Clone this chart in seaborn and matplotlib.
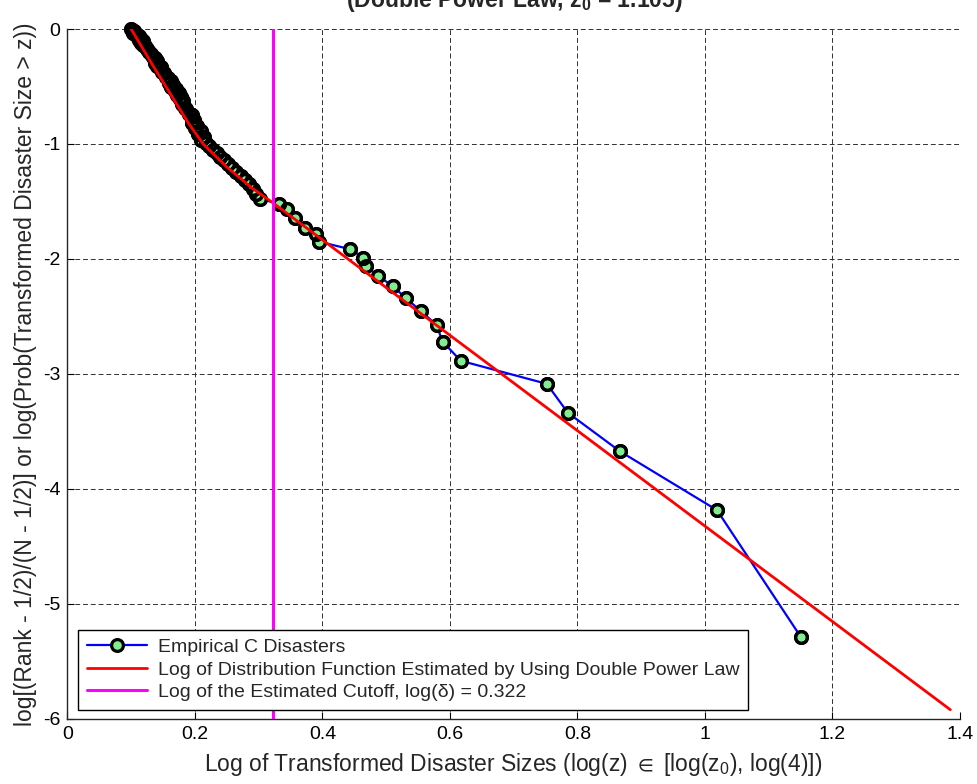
import numpy as np
import matplotlib
matplotlib.use('Agg')
import matplotlib.pyplot as plt
import pandas as pd
import seaborn as sns

# sample of 99 disasters, rank 1 = largest
N = 99
rank = list(range(1, N + 1))
log_size = [1.150, 1.019, 0.867, 0.785, 0.752, 0.617, 0.5885, 0.579, 0.554, 0.5305,
            0.511, 0.4875, 0.469, 0.464, 0.444, 0.395, 0.390, 0.3725, 0.357, 0.357,
            0.345, 0.332, 0.302, 0.296, 0.291, 0.285, 0.279, 0.272, 0.265, 0.258,
            0.252, 0.246, 0.240, 0.235, 0.229, 0.222, 0.218, 0.210, 0.214, 0.205,
            0.209, 0.200, 0.203, 0.196, 0.199, 0.190, 0.195, 0.186, 0.190, 0.184,
            0.186, 0.179, 0.181, 0.176, 0.178, 0.172, 0.175, 0.168, 0.171, 0.163,
            0.166, 0.160, 0.162, 0.155, 0.158, 0.151, 0.155, 0.148, 0.151, 0.144,
            0.147, 0.141, 0.144, 0.138, 0.140, 0.134, 0.137, 0.131, 0.134, 0.128,
            0.131, 0.125, 0.128, 0.122, 0.125, 0.119, 0.122, 0.116, 0.118, 0.113,
            0.115, 0.110, 0.112, 0.107, 0.108, 0.103, 0.104, 0.101, 0.100]

# fitted double power law
fit_x = [0.100, 0.130, 0.160, 0.190, 0.213, 0.250, 0.290, 0.322, 1.385]
fit_y = [0.00, -0.28, -0.55, -0.82, -1.00, -1.20, -1.385, -1.51, -5.92]

log_cutoff = 0.322
z0_text = '1.105'

xticks = [0, 0.2, 0.4, 0.6, 0.8, 1, 1.2, 1.4]
yticks = [0, -1, -2, -3, -4, -5, -6]

emp = pd.DataFrame({'x': log_size, 'rank': rank})
# y axis as defined by the label: log[(Rank - 1/2)/(N - 1/2)]
emp['y'] = np.log((emp['rank'] - 0.5) / (N - 0.5))
fit = pd.DataFrame({'x': fit_x, 'y': fit_y})

sns.set_style('white')
plt.rcParams['font.family'] = ['Liberation Sans', 'DejaVu Sans']
plt.rcParams['mathtext.fontset'] = 'custom'
plt.rcParams['mathtext.rm'] = 'Liberation Sans'
plt.rcParams['mathtext.it'] = 'Liberation Sans'
plt.rcParams['mathtext.bf'] = 'Liberation Sans:bold'
plt.rcParams['mathtext.default'] = 'regular'
plt.rcParams['axes.unicode_minus'] = False

fig = plt.figure(figsize=(9.77, 7.84), dpi=100)
ax = fig.add_axes([0.069, 0.083, 0.9135, 0.880])

ax.grid(True, linestyle=(0, (5, 3)), color='#303030', linewidth=0.7)
ax.set_axisbelow(True)

mk = dict(marker='o', markersize=8.5, markeredgewidth=2.3, clip_on=False)
sns.lineplot(data=emp, x='x', y='y', sort=False, ax=ax, color='#0000FF',
             linewidth=1.6, markerfacecolor='#80EE90', markeredgecolor='black',
             label='Empirical C Disasters', zorder=3, **mk)
# marker rims drawn again on top of all faces, so dense runs merge into black
sns.lineplot(data=emp, x='x', y='y', sort=False, ax=ax, linestyle='none',
             markerfacecolor='none', markeredgecolor='black', zorder=3.5, **mk)
sns.lineplot(data=fit, x='x', y='y', sort=False, ax=ax, color='#FF0000',
             linewidth=2, label='Log of Distribution Function Estimated by Using Double Power Law',
             zorder=4)
ax.axvline(log_cutoff, color='#FF00FF', linewidth=2.2, zorder=5,
           label='Log of the Estimated Cutoff, log(δ) = 0.322')

ax.set_xlim(0, 1.4)
ax.set_ylim(-6, 0)
ax.set_xticks(xticks)
ax.set_yticks(yticks)
ax.set_xticklabels(['%g' % t for t in xticks])
ax.set_yticklabels(['%g' % t for t in yticks])
ax.tick_params(direction='in', length=5, labelsize=14, colors='black',
               bottom=True, left=True, pad=5)

for s in ['top', 'right']:
    ax.spines[s].set_visible(False)
for s in ['left', 'bottom']:
    ax.spines[s].set_color('#262626')
    ax.spines[s].set_linewidth(1)

ax.set_xlabel('Log of Transformed Disaster Sizes (log(z) $\\in$ [log(z$_0$), log(4)])',
              fontsize=16.5, labelpad=6)
ax.set_ylabel('log[(Rank - 1/2)/(N - 1/2)] or log(Prob(Transformed Disaster Size > z))',
              fontsize=16.5, labelpad=4)

fig.text(0.526, 1 - 7.5 / 784, '(Double Power Law, z$_0$ = ' + z0_text + ')',
         ha='center', va='baseline', fontsize=16.5, fontweight='bold')

handles, labels = ax.get_legend_handles_labels()
keep = [i for i, l in enumerate(labels) if l and not l.startswith('_')]
leg = ax.legend([handles[i] for i in keep], [labels[i] for i in keep],
                loc='lower left', bbox_to_anchor=(0.0118, 0.0130), borderaxespad=0,
                fontsize=14, handlelength=3.1, handletextpad=0.55, labelspacing=0.25,
                borderpad=0.45, frameon=True, fancybox=False, numpoints=1)
leg.get_frame().set_edgecolor('black')
leg.get_frame().set_linewidth(1)
leg.get_frame().set_alpha(1)

fig.savefig('out.png', dpi=100)
